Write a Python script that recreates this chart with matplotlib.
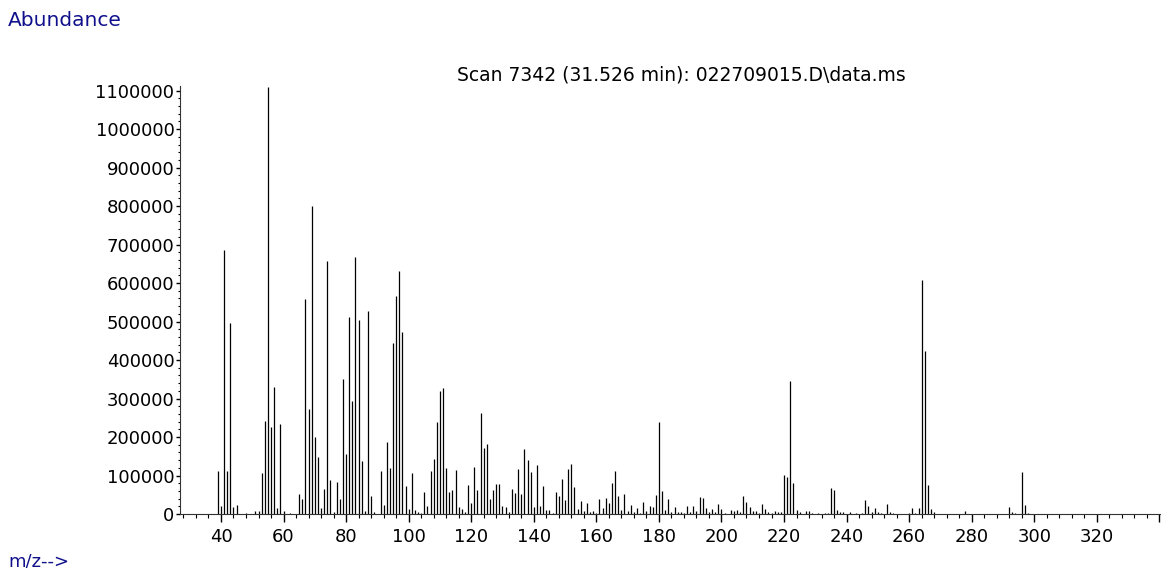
import matplotlib
matplotlib.use("Agg")
import matplotlib.pyplot as plt
import numpy as np

# m/z values and abundances
mz = [39, 40, 41, 42, 43, 44, 45, 48, 51, 52, 53, 54, 55, 56, 57, 58, 59, 60, 62,
      65, 66, 67, 68, 69, 70, 71, 72, 73, 74, 75, 76, 77, 78, 79, 80,
      81, 82, 83, 84, 85, 86, 87, 88, 89, 91, 92, 93, 94, 95, 96, 97, 98, 99, 100,
      101, 102, 103, 104, 105, 106, 107, 108, 109, 110, 111, 112, 113, 114, 115, 116, 117, 118, 119, 120,
      121, 122, 123, 124, 125, 126, 127, 128, 129, 130, 131, 132, 133, 134, 135, 136, 137, 138, 139, 140,
      141, 142, 143, 144, 145, 146, 147, 148, 149, 150, 151, 152, 153, 154, 155, 156, 157, 158, 159, 160,
      161, 162, 163, 164, 165, 166, 167, 168, 169, 170, 171, 172, 173, 174, 175, 176, 177, 178, 179, 180,
      181, 182, 183, 184, 185, 186, 187, 188, 189, 190, 191, 192, 193, 194, 195, 196, 197, 198, 199, 200,
      201, 202, 203, 204, 205, 206, 207, 208, 209, 210, 211, 212, 213, 214, 215, 216, 217, 218, 219, 220,
      221, 222, 223, 224, 225, 227, 228, 229, 231, 233, 234, 235, 236, 237, 238, 239, 241, 243, 245,
      246, 247, 248, 249, 250, 251, 252, 253, 254, 255, 256, 260, 261, 262, 263, 264, 265, 266, 267, 268,
      278, 292, 293, 294, 296, 297, 298]
abundance = [112000, 21000, 687000, 112000, 497000, 18000, 24000, 3000, 8500, 7500, 106000, 242000, 1110000, 226000, 329000, 16000, 234000, 9000, 2000,
             51000, 40000, 558000, 272000, 800000, 201000, 148000, 16000, 66000, 658000, 88000, 6000, 82000, 40000, 350000, 155000,
             512000, 293000, 667000, 505000, 139000, 8000, 528000, 46000, 5000, 112000, 24000, 186000, 120000, 444000, 566000, 632000, 472000, 73000, 13000,
             106000, 11000, 6000, 3000, 56000, 20000, 111000, 144000, 238000, 320000, 328000, 120000, 58000, 62000, 114000, 18000, 14000, 6000, 76000, 28000,
             121000, 63000, 262000, 171000, 181000, 39000, 63000, 79000, 79000, 21000, 19000, 5000, 66000, 55000, 117000, 53000, 168000, 141000, 108000, 19000,
             128000, 21000, 73000, 11000, 11000, 3000, 57000, 47000, 90000, 37000, 116000, 131000, 71000, 14000, 35000, 7000, 28000, 6000, 9000, 3000,
             40000, 16000, 42000, 29000, 81000, 112000, 48000, 11000, 53000, 8000, 23000, 5000, 16000, 3000, 31000, 9000, 21000, 18000, 50000, 239000,
             60000, 11000, 39000, 6000, 18000, 6000, 5000, 3000, 22000, 6000, 20000, 9000, 43000, 41000, 16000, 6000, 12000, 4000, 27000, 14000,
             3000, 1000, 10000, 7000, 10000, 6000, 48000, 32000, 18000, 7000, 7000, 3000, 25000, 12000, 4000, 2000, 8000, 4000, 4000, 102000,
             97000, 345000, 81000, 11000, 5000, 9000, 8000, 3000, 2000, 3000, 2000, 67000, 62000, 10000, 6000, 6000, 5000, 2000, 3000,
             37000, 21000, 4000, 16000, 5000, 2000, 1000, 27000, 6000, 3000, 1000, 2000, 15000, 3000, 16000, 607000, 424000, 76000, 14000, 4000,
             7000, 19000, 4000, 2000, 110000, 24000, 3000]

x_labels = [40, 60, 80, 100, 120, 140, 160, 180, 200, 220, 240, 260, 280, 300, 320]
y_ticks = list(range(0, 1100001, 100000))

blue = '#10108c'

fig = plt.figure(figsize=(11.7, 5.68), dpi=100)
ax = fig.add_axes([180/1170, 54/568, 980/1170, 428/568])

ax.vlines(mz, 0, abundance, colors='black', linewidth=0.9)

ax.set_xlim(26.9, 340.2)
ax.set_ylim(0, 1112000)

for s in ['top', 'right']:
    ax.spines[s].set_visible(False)
for s in ['left', 'bottom']:
    ax.spines[s].set_linewidth(0.8)
    ax.spines[s].set_color('#333333')

ax.set_xticks(x_labels + [340])
ax.set_xticklabels([str(v) for v in x_labels] + [''])
ax.set_xticks(np.arange(28, 341, 4), minor=True)
ax.set_yticks(y_ticks)
ax.set_yticklabels([str(v) for v in y_ticks])
ax.set_yticks(np.arange(0, 1110001, 20000), minor=True)

ax.tick_params(axis='x', which='major', direction='out', length=6, width=1, pad=4, labelsize=13)
ax.tick_params(axis='x', which='minor', direction='out', length=3, width=0.8)
ax.tick_params(axis='y', which='major', direction='out', length=3, width=1, pad=1, labelsize=13)
ax.tick_params(axis='y', which='minor', direction='out', length=1.5, width=0.8)

fig.text(681/1170, 1 - 75/568, 'Scan 7342 (31.526 min): 022709015.D\\data.ms',
         ha='center', va='center', fontsize=13.5, color='black')
fig.text(8/1170, 1 - 21/568, 'Abundance', ha='left', va='center', fontsize=14.5, color=blue)
fig.text(8/1170, 1 - 561/568, 'm/z-->', ha='left', va='center', fontsize=13, color=blue)

fig.savefig('out.png', dpi=100)
